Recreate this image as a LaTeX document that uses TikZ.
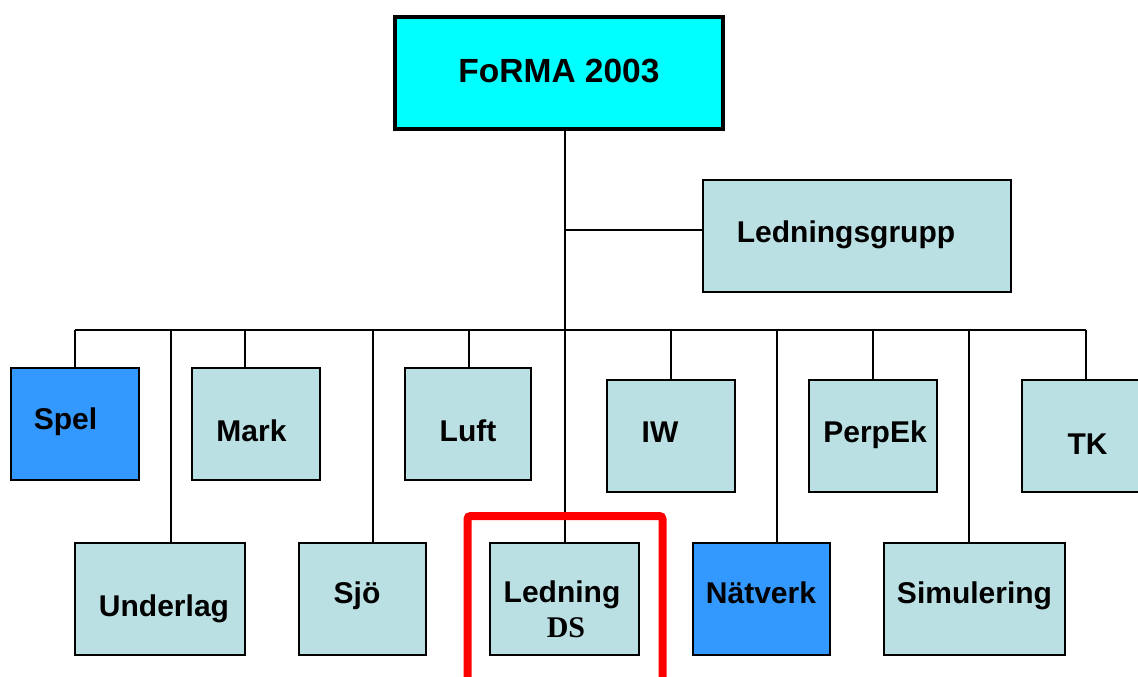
\documentclass[tikz,border=0pt]{standalone}
\usepackage{fontspec}
\setmainfont{Liberation Sans}
\newfontfamily\serifbold{Liberation Serif}
\definecolor{boxfill}{HTML}{BBE0E3}
\definecolor{bluefill}{HTML}{3399FF}
\definecolor{topfill}{HTML}{00FFFF}
\definecolor{redline}{HTML}{FF0000}
\begin{document}
\begin{tikzpicture}[x=1pt,y=-1pt,
  orgbox/.style={draw=black,line width=1.5pt,fill=boxfill,inner sep=0pt,minimum width=128pt,minimum height=112pt},
  bluebox/.style={orgbox,fill=bluefill},
  lbl/.style={anchor=base,inner sep=0pt,font=\fontsize{30}{36}\selectfont\bfseries},
  wire/.style={draw=black,line width=1.5pt}]
\useasboundingbox (0,0) rectangle (1138,677);
% boxes
\node[draw=black,line width=4pt,fill=topfill,inner sep=0pt,minimum width=328pt,minimum height=112pt] (top) at (559,73) {};
\node[orgbox,minimum width=308pt] (lg) at (857,236) {};
\node[bluebox] (spel) at (75,424) {};
\node[orgbox] (mark) at (256,424) {};
\node[orgbox,minimum width=126pt] (luft) at (468,424) {};
\node[orgbox] (iw) at (671,436) {};
\node[orgbox] (perp) at (873,436) {};
\node[orgbox] (tk) at (1086,436) {};
\node[orgbox,minimum width=170pt] (under) at (160,599) {};
\node[orgbox,minimum width=127pt] (sjo) at (362.5,599) {};
\node[orgbox,minimum width=149pt] (led) at (564.5,599) {};
\node[bluebox,minimum width=137pt] (nat) at (761.5,599) {};
\node[orgbox,minimum width=181pt] (sim) at (974.5,599) {};
% labels
\node[lbl,font=\fontsize{33.5}{40}\selectfont\bfseries] (tTop) at (559,82) {FoRMA 2003};
\node[lbl] (tLg) at (846,242) {Ledningsgrupp};
\node[lbl] (tSpel) at (65.5,429) {Spel};
\node[lbl] (tMark) at (251.5,441) {Mark};
\node[lbl] (tLuft) at (468,441) {Luft};
\node[lbl] (tIw) at (660,442) {IW};
\node[lbl] (tPerp) at (875,442) {PerpEk};
\node[lbl] (tTk) at (1087.5,454) {TK};
\node[lbl] (tUnder) at (164,616) {Underlag};
\node[lbl] (tSjo) at (357,603) {Sjö};
\node[lbl] (tLed) at (562,602) {Ledning};
\node[lbl,font=\fontsize{30}{36}\selectfont\serifbold\bfseries] (tDs) at (566,637) {DS};
\node[lbl] (tNat) at (761,603) {Nätverk};
\node[lbl] (tSim) at (974.5,603) {Simulering};
% connector coordinates
\coordinate (bL) at (75,330);
\coordinate (bR) at (1086,330);
\coordinate (c1) at (171,330);
\coordinate (c2) at (245,330);
\coordinate (c3) at (373,330);
\coordinate (c4) at (469,330);
\coordinate (c5) at (671,330);
\coordinate (c6) at (777,330);
\coordinate (c7) at (873,330);
\coordinate (c8) at (969,330);
\coordinate (trT) at (565,129);
\coordinate (br) at (565,230);
% connectors
\draw[wire] (trT) -- (trT |- led.north);
\draw[wire] (br) -- (br -| lg.west);
\draw[wire] (bL) -- (bR);
\draw[wire] (bL) -- (bL |- spel.north);
\draw[wire] (c1) -- (c1 |- under.north);
\draw[wire] (c2) -- (c2 |- mark.north);
\draw[wire] (c3) -- (c3 |- sjo.north);
\draw[wire] (c4) -- (c4 |- luft.north);
\draw[wire] (c5) -- (c5 |- iw.north);
\draw[wire] (c6) -- (c6 |- nat.north);
\draw[wire] (c7) -- (c7 |- perp.north);
\draw[wire] (c8) -- (c8 |- sim.north);
\draw[wire] (bR) -- (bR |- tk.north);
% red highlight frame
\node[draw=redline,line width=8pt,rounded corners=3pt,inner sep=0pt,minimum width=195pt,minimum height=190pt] (hl) at (565,611) {};
\end{tikzpicture}
\end{document}
